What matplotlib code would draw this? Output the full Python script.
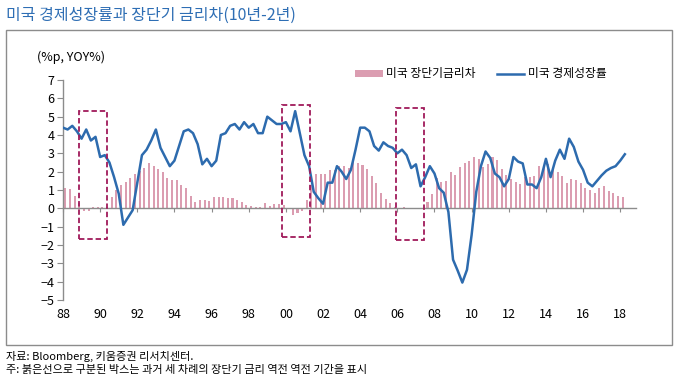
import matplotlib
matplotlib.use("Agg")
import matplotlib.pyplot as plt
from matplotlib.patches import Rectangle, Patch
from matplotlib.lines import Line2D
import numpy as np

plt.rcParams["font.family"] = ["Noto Sans CJK KR", "DejaVu Sans"]
plt.rcParams["axes.unicode_minus"] = True

# ── data (quarterly, 1988Q1 ~) ────────────────────────────────────────────────
gdp_growth = [
    4.4, 4.3, 4.5, 4.2, 3.8, 4.3, 3.7, 3.9, 2.8, 2.9, 2.5, 1.7, 0.8, -0.9, -0.5, -0.1,
    1.4, 2.9, 3.2, 3.7, 4.3, 3.3, 2.8, 2.3, 2.6, 3.4, 4.2, 4.3, 4.1, 3.5, 2.4, 2.7,
    2.3, 2.6, 4.0, 4.1, 4.5, 4.6, 4.3, 4.7, 4.4, 4.6, 4.1, 4.1, 5.0, 4.8, 4.6, 4.6,
    4.7, 4.2, 5.3, 4.1, 2.9, 2.3, 0.9, 0.55, 0.25, 1.4, 1.4, 2.3, 2.0, 1.6, 2.1, 3.2,
    4.4, 4.4, 4.2, 3.4, 3.15, 3.6, 3.4, 3.3, 3.0, 3.2, 2.9, 2.2, 2.4, 1.2, 1.7, 2.3,
    1.9, 1.1, 0.85, -0.2, -2.8, -3.4, -4.05, -3.35, -1.45, 0.9, 2.3, 3.1, 2.75, 1.9, 1.7, 1.2,
    1.6, 2.8, 2.55, 2.45, 1.3, 1.3, 1.1, 1.7, 2.7, 1.7, 2.6, 3.2, 2.7, 3.8, 3.35, 2.55,
    2.1, 1.4, 1.2, 1.5, 1.8, 2.05, 2.2, 2.3, 2.6, 2.95,
]
term_spread = [
    1.09, 1.05, 0.67, 0.27, -0.15, -0.15, 0.05, 0.09, 0.05, 0.1, 0.6, 1.0, 1.27, 1.45, 1.65, 1.87,
    2.05, 2.2, 2.5, 2.33, 2.16, 2.0, 1.65, 1.55, 1.55, 1.27, 1.1, 0.67, 0.35, 0.47, 0.47, 0.4,
    0.64, 0.63, 0.6, 0.57, 0.55, 0.46, 0.35, 0.18, 0.15, 0.05, 0.05, 0.27, 0.13, 0.24, 0.24, 0.18,
    -0.04, -0.37, -0.27, -0.13, 0.45, 1.3, 1.9, 1.9, 1.9, 2.09, 2.09, 2.3, 2.3, 2.2, 2.55, 2.45,
    2.36, 2.13, 1.76, 1.36, 0.85, 0.49, 0.27, 0.09, 0.0, 0.05, 0.0, -0.05, -0.04, 0.02, 0.33, 0.78,
    1.64, 1.45, 1.49, 2.0, 1.82, 2.27, 2.49, 2.6, 2.78, 2.7, 2.24, 2.4, 2.78, 2.64, 2.13, 1.8,
    1.6, 1.45, 1.35, 1.69, 1.69, 1.75, 2.3, 2.36, 2.42, 2.18, 2.0, 1.76, 1.4, 1.58, 1.55, 1.36,
    1.09, 1.0, 0.82, 1.13, 1.22, 0.96, 0.85, 0.67, 0.6,
]
# inversion periods marked with dashed boxes (start, end in years)
box_periods = [(1988.88, 1990.37), (1999.78, 2001.3), (2005.92, 2007.44)]
box_bottom = [-1.67, -1.55, -1.73]
box_top = [5.32, 5.64, 5.49]
year_ticks = list(range(1988, 2019, 2))

gdp_x = 1988 + np.arange(len(gdp_growth)) / 4
spread_x = 1988.125 + np.arange(len(term_spread)) / 4

LINE_C = "#2D6BAE"
BAR_C = "#DB9DB1"
BOX_C = "#A01A5A"
GREY = "#8C8C8C"

# ── figure ────────────────────────────────────────────────────────────────────
W, H = 677, 381
fig = plt.figure(figsize=(W / 100, H / 100), dpi=100)
ax = fig.add_axes([63 / W, 1 - 300 / H, (636 - 63) / W, (300 - 80) / H])

ax.bar(spread_x, term_spread, width=0.11, color=BAR_C, linewidth=0, zorder=2)
ax.plot(gdp_x, gdp_growth, color=LINE_C, linewidth=1.8, zorder=3)

for (x0, x1), lo, hi in zip(box_periods, box_bottom, box_top):
    ax.add_patch(Rectangle((x0, lo), x1 - x0, hi - lo, fill=False, edgecolor=BOX_C,
                           linestyle=(0, (3, 1.6)), linewidth=1.3, zorder=4))

ax.set_xlim(1988, 2018.85)
ax.set_ylim(-5, 7)
ax.set_yticks(range(-5, 8))
ax.tick_params(axis="y", length=4, color=GREY, labelsize=9, pad=2)
ax.set_facecolor("none")

# x axis line sits at zero, labels at the bottom
ax.spines["bottom"].set_position(("data", 0))
ax.spines[["top", "right"]].set_visible(False)
for s in ("bottom", "left"):
    ax.spines[s].set_color(GREY)
    ax.spines[s].set_linewidth(1.0)
ax.set_xticks(year_ticks)
ax.tick_params(axis="x", direction="out", length=3, color=GREY, labelbottom=False)

sec = ax.secondary_xaxis("bottom")
sec.set_xticks(year_ticks)
sec.set_xticklabels([f"{y % 100:02d}" for y in year_ticks])
sec.tick_params(length=0, labelsize=9, pad=6)
sec.spines["bottom"].set_visible(False)

# ── legend ────────────────────────────────────────────────────────────────────
handles = [Patch(facecolor=BAR_C, edgecolor="none"),
           Line2D([], [], color=LINE_C, linewidth=1.8)]
fig.legend(handles, ["미국 장단기금리차", "미국 경제성장률"], loc="center",
           bbox_to_anchor=(481 / W, 1 - 74 / H), ncol=2, frameon=False, fontsize=8.5,
           handlelength=2.3, handleheight=0.55, handletextpad=0.3, columnspacing=1.8)

# ── texts and frame ───────────────────────────────────────────────────────────
fig.text(6 / W, 1 - 15 / H, "미국 경제성장률과 장단기 금리차(10년-2년)", fontsize=11.5,
         color="#2E6EB4", va="center", ha="left")
fig.text(37 / W, 1 - 57 / H, "(%p, YOY%)", fontsize=9, va="center", ha="left")
fig.add_artist(Rectangle((6 / W, 1 - 345 / H), (672 - 6) / W, (345 - 30) / H,
                         transform=fig.transFigure, fill=False, edgecolor=GREY, linewidth=1.0))
fig.text(6 / W, 1 - 356 / H, "자료: Bloomberg, 키움증권 리서치센터.", fontsize=8, va="center")
fig.text(6 / W, 1 - 370 / H, "주: 붉은선으로 구분된 박스는 과거 세 차례의 장단기 금리 역전 역전 기간을 표시",
         fontsize=8, va="center")

fig.savefig("out.png", dpi=100)
plt.close(fig)
